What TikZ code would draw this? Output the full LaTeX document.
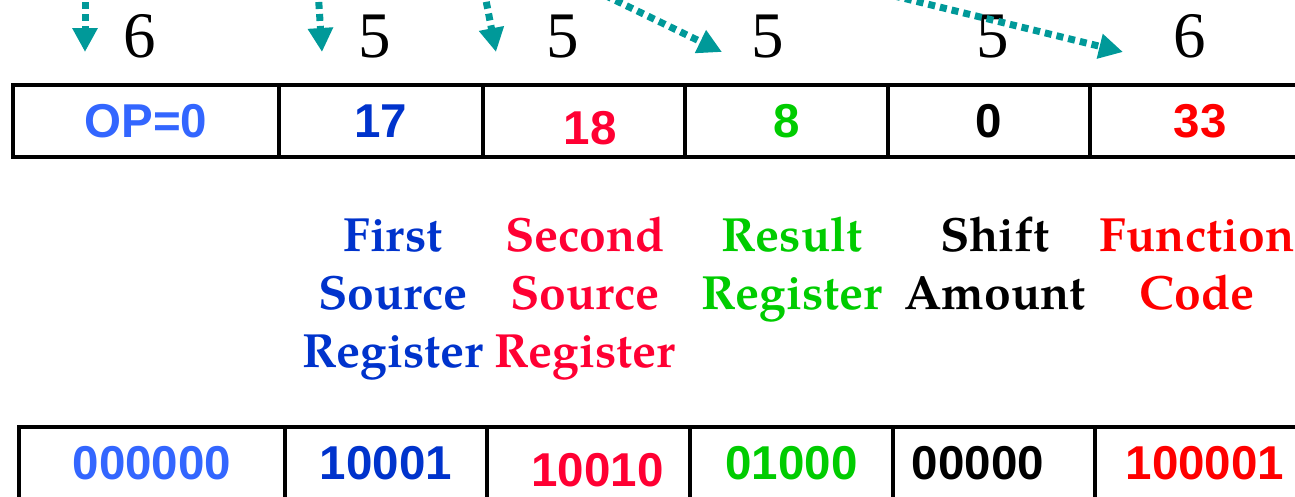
\documentclass[tikz,border=0pt]{standalone}
\usepackage{fontspec}
\setmainfont{Liberation Serif}
\newfontfamily\cellfont{Liberation Sans}
\newfontfamily\namefont{texgyrepagella}[Extension=.otf,UprightFont=*-regular,BoldFont=*-bold]
\usetikzlibrary{arrows.meta}
\definecolor{opblue}{HTML}{3366FF}
\definecolor{rsblue}{HTML}{0033CC}
\definecolor{rtred}{HTML}{FF0033}
\definecolor{rdgreen}{HTML}{00CC00}
\definecolor{fnred}{HTML}{FF0000}
\definecolor{flowteal}{HTML}{009999}

\begin{document}
\begin{tikzpicture}[x=1pt,y=-1pt,
 cell/.style={draw,line width=4.5pt,minimum height=72pt,inner sep=0pt,
  font=\cellfont\bfseries\fontsize{47.5}{57}\selectfont},
 bits/.style={anchor=base,font=\fontsize{65}{78}\selectfont},
 field/.style={anchor=base,align=center,font=\namefont\bfseries\fontsize{48}{58}\selectfont},
 flow/.style={flowteal,line width=7pt,dash pattern=on 7pt off 5pt,
  -{Triangle[length=24pt,width=24pt]}}]
\useasboundingbox (0,0) rectangle (1295,496);
% field widths
\foreach \x/\n [count=\i] in {140/6,375/5,563/5,768/5,993/5,1190/6}
 {\node[bits] (b\i) at (\x,57) {\n};}
% arrows coming in from above
\foreach \s/\t [count=\i] in {85/85,318/322,484/496,594/722,870/1123}
 {\coordinate (src\i) at (\s,-10);
  \coordinate (tip\i) at (\t,52);}
\foreach \i in {1,...,5}
 {\draw[flow] (src\i) -- (tip\i);}
% decimal fields
\foreach \l/\r/\t/\c [count=\i] in {13/279/OP=0/opblue,279/483/17/rsblue,
 483/685/{\raisebox{-7pt}[\height][\depth]{\hspace*{12pt}18}}/rtred,685/888/8/rdgreen,
 888/1090/0/black,1090/1310/33/fnred}
 {\node[cell,minimum width=\r-\l,text=\c] (dec\i) at ({(\l+\r)/2},121) {\t};}
% field names (anchored at the last line)
\node[field,text=rsblue] (rsname) at (393,367) {First\\Source\\Register};
\node[field,text=rtred] (rtname) at (585,367) {Second\\Source\\Register};
\node[field,text=rdgreen] (rdname) at (792,309) {Result\\Register};
\node[field] (shname) at (995,309) {Shift\\Amount};
\node[field,text=fnred] (fnname) at (1197,309) {Function\\Code};
% binary fields
\foreach \l/\r/\t/\c [count=\i] in {19/285/000000/opblue,285/487/10001/rsblue,
 487/690/{\raisebox{-7pt}[\height][\depth]{\hspace*{18pt}10010}}/rtred,690/893/01000/rdgreen,
 893/1095/{\hspace*{-32pt}00000}/black,1095/1315/100001/fnred}
 {\node[cell,minimum width=\r-\l,text=\c] (bin\i) at ({(\l+\r)/2},463) {\t};}
\end{tikzpicture}
\end{document}
